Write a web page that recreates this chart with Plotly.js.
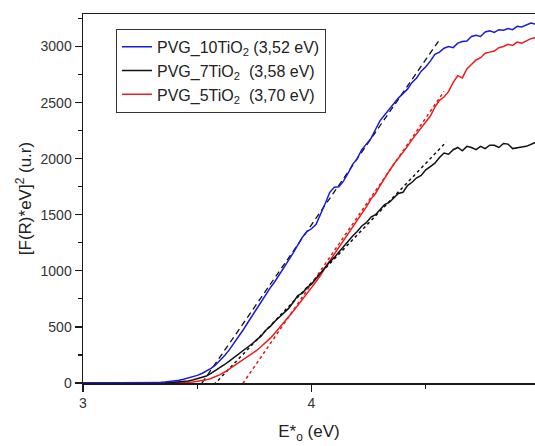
<!DOCTYPE html>
<html>
<head>
<meta charset="utf-8">
<script src="https://cdn.plot.ly/plotly-3.0.1.min.js"></script>
<style>html,body{margin:0;padding:0;background:#fff;}#chart{width:535px;height:446px;}</style>
</head>
<body>
<div id="chart"></div>
<script>
// Photon energy (eV)
const energy = [3.00,3.10,3.20,3.30,3.32,3.34,3.36,3.38,3.40,3.42,3.44,3.46,3.48,3.50,3.52,3.54,3.56,3.58,3.60,3.62,3.64,3.66,3.68,3.70,3.72,3.74,3.76,3.78,3.80,3.82,3.84,3.86,3.88,3.90,3.92,3.94,3.96,3.98,4.00,4.02,4.04,4.06,4.08,4.10,4.12,4.14,4.16,4.18,4.20,4.22,4.24,4.26,4.28,4.30,4.32,4.34,4.36,4.38,4.40,4.42,4.44,4.46,4.48,4.50,4.52,4.54,4.56,4.58,4.60,4.62,4.64,4.66,4.68,4.70,4.72,4.74,4.76,4.78,4.80,4.82,4.84,4.86,4.88,4.90,4.92,4.94,4.96,4.98];

// [F(R)*eV]^2 for each sample
const pvg10 = [0,0,0,2,3,5,8,12,18,24,33,44,55,68,85,105,130,160,200,245,295,350,410,470,535,600,665,730,795,850,905,965,1030,1095,1160,1230,1300,1350,1375,1415,1500,1600,1700,1745,1750,1800,1870,1950,2000,2080,2130,2180,2260,2340,2390,2440,2500,2540,2580,2620,2680,2720,2780,2820,2870,2930,2950,2985,3000,2990,3030,3045,3050,3090,3100,3090,3130,3140,3125,3150,3145,3160,3150,3180,3175,3195,3210,3200];
const pvg7 = [0,0,0,0,1,2,3,5,7,10,13,18,26,36,48,62,85,110,140,165,195,225,255,290,315,350,385,420,470,505,550,590,630,665,720,780,800,850,880,930,980,1040,1080,1120,1170,1220,1260,1310,1350,1400,1430,1480,1500,1550,1590,1610,1650,1690,1700,1760,1790,1830,1850,1900,1930,1960,2010,2050,2040,2080,2100,2070,2110,2100,2080,2110,2090,2120,2120,2100,2135,2130,2090,2100,2105,2110,2130,2145];
const pvg5 = [0,0,0,0,0,1,1,2,2,3,4,6,9,14,20,28,40,55,75,98,125,150,180,205,230,260,290,325,360,400,445,490,540,590,640,690,740,790,850,905,960,1030,1090,1150,1200,1270,1320,1390,1450,1510,1570,1640,1690,1760,1830,1890,1950,2000,2060,2110,2170,2220,2280,2330,2380,2460,2520,2550,2600,2680,2740,2720,2800,2840,2880,2900,2940,2950,2960,2990,3000,3020,3010,3040,3030,3050,3070,3080];

// Linear fits (Tauc tangents): [x start, x end] and [y start, y end]
const fit10x = [3.47, 4.56], fit10y = [-150, 3060];
const fit7x  = [3.50, 4.59], fit7y  = [-170, 2150];
const fit5x  = [3.64, 4.58], fit5y  = [-180, 2600];

const seriesNames = [
  'PVG_10TiO<sub>2</sub> (3,52 eV)',
  'PVG_7TiO<sub>2</sub>  (3,58 eV)',
  'PVG_5TiO<sub>2</sub>  (3,70 eV)'
];
const xTicks = [3, 4, 5];
const yTicks = [0, 500, 1000, 1500, 2000, 2500, 3000];

const FONT = 'Liberation Sans, Arial, sans-serif';

const traces = [
  {x: fit10x, y: fit10y, mode: 'lines', line: {color: '#111', width: 1.3, dash: '6px,4px'}, showlegend: false, hoverinfo: 'skip'},
  {x: fit7x, y: fit7y, mode: 'lines', line: {color: '#111', width: 1.5, dash: 'dot'}, showlegend: false, hoverinfo: 'skip'},
  {x: fit5x, y: fit5y, mode: 'lines', line: {color: '#e01818', width: 1.5, dash: 'dot'}, showlegend: false, hoverinfo: 'skip'},
  {x: energy, y: pvg5, mode: 'lines', name: seriesNames[2], legendrank: 3, legendgroup: 'c', line: {color: '#ee1c1c', width: 1.5}},
  {x: energy, y: pvg7, mode: 'lines', name: seriesNames[1], legendrank: 2, legendgroup: 'b', line: {color: '#111111', width: 1.5}},
  {x: energy, y: pvg10, mode: 'lines', name: seriesNames[0], legendrank: 1, legendgroup: 'a', line: {color: '#1a1adf', width: 1.5}}
];

const axisCommon = {
  showgrid: false, zeroline: false, showline: true, linecolor: '#1a1a1a', linewidth: 1.5,
  ticks: 'outside', ticklen: 7, tickwidth: 1.3, tickcolor: '#1a1a1a',
  tickfont: {family: FONT, size: 14, color: '#333'}
};

const layout = {
  width: 535, height: 446,
  margin: {l: 83, r: 0, t: 14, b: 63},
  paper_bgcolor: '#fff', plot_bgcolor: '#fff',
  showlegend: true,
  legend: {
    x: 0.073, y: 0.96, xanchor: 'left', yanchor: 'top',
    bgcolor: '#fff', bordercolor: '#333', borderwidth: 1,
    font: {family: FONT, size: 16, color: '#222'},
    tracegroupgap: 3, traceorder: 'normal'
  },
  xaxis: Object.assign({}, axisCommon, {
    range: [3, 4.978], tickmode: 'array', tickvals: xTicks, ticktext: xTicks.map(String),
    mirror: true,
    minor: {dtick: 0.5, tick0: 3, ticks: 'outside', ticklen: 4, tickwidth: 1.2, tickcolor: '#1a1a1a'},
    title: {text: 'E*<sub>o</sub> (eV)', standoff: 15, font: {family: FONT, size: 17, color: '#222'}}
  }),
  yaxis: Object.assign({}, axisCommon, {
    range: [0, 3290], tickmode: 'array', tickvals: yTicks, ticktext: yTicks.map(String),
    minor: {dtick: 250, tick0: 0, ticks: 'outside', ticklen: 4, tickwidth: 1.2, tickcolor: '#1a1a1a'},
    title: {text: '[F(R)*eV]<sup>2</sup> (u.r)', standoff: 4, font: {family: FONT, size: 17, color: '#222'}}
  })
};

Plotly.newPlot('chart', traces, layout, {displayModeBar: false, staticPlot: true});
</script>
</body>
</html>
